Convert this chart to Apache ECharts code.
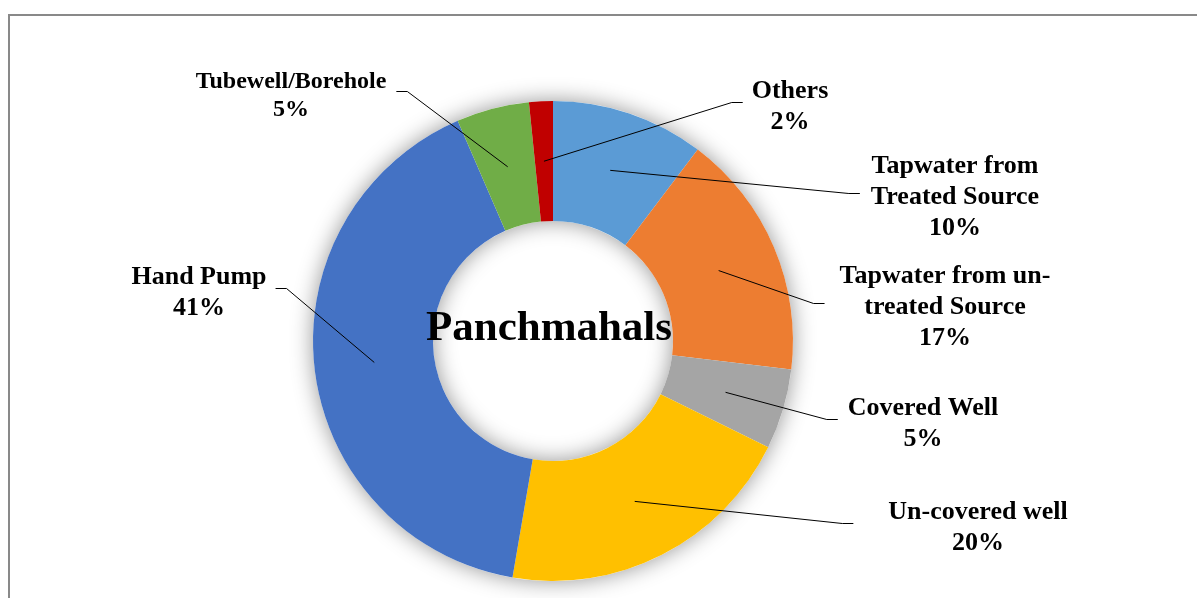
<!DOCTYPE html>
<html>
<head>
<meta charset="utf-8">
<script src="https://cdn.jsdelivr.net/npm/echarts@6/dist/echarts.min.js"></script>
<style>
  html, body { margin: 0; padding: 0; background: #ffffff; }
  #chart { width: 1197px; height: 598px; }
</style>
</head>
<body>
<div id="chart"></div>
<script>
// Drinking water sources, Panchmahals (share of households, %)
const categories = [
  'Tapwater from\nTreated Source',
  'Tapwater from un-\ntreated Source',
  'Covered Well',
  'Un-covered well',
  'Hand Pump',
  'Tubewell/Borehole',
  'Others'
];
const shares = [10.3, 16.6, 5.4, 20.4, 40.8, 4.9, 1.6];
const sliceColors = ['#5B9BD5', '#ED7D31', '#A5A5A5', '#FFC000', '#4472C4', '#70AD47', '#C00000'];
const chartTitle = 'Panchmahals';

// Ring geometry
const CENTER = [553, 341];
const RADII = [120, 240];

// Centre of each label block and the side its leader line attaches to
const labelPlacement = [
  { x: 955, y: 195, side: 'left',  gap: 11 },
  { x: 945, y: 305, side: 'left',  gap: 15 },
  { x: 923, y: 421, side: 'left',  gap: 10 },
  { x: 978, y: 525, side: 'left',  gap: 35 },
  { x: 199, y: 290, side: 'right', gap: 9 },
  { x: 291, y: 93,  side: 'right', gap: 10 },
  { x: 790, y: 104, side: 'left',  gap: 9 }
];
const labelFontSizes = [26, 26, 26, 26, 26, 24, 26];

// Mid-angle of every slice, clockwise from 12 o'clock
const total = shares.reduce((a, b) => a + b, 0);
const midAngles = [];
(function () {
  let acc = 0;
  shares.forEach(v => {
    midAngles.push(((acc + v / 2) / total) * Math.PI * 2);
    acc += v;
  });
})();

const serifFont = '"Liberation Serif", "Times New Roman", serif';

const ringData = categories.map((name, i) => ({
  name: name,
  value: shares[i],
  itemStyle: { color: sliceColors[i] }
}));

// Same slices, invisible, carrying the labels so the leader lines sit above the ring
const labelData = categories.map((name, i) => ({
  name: name,
  value: shares[i],
  label: {
    fontSize: labelFontSizes[i],
    lineHeight: labelFontSizes[i] === 26 ? 31 : 28
  }
}));

const chart = echarts.init(document.getElementById('chart'), null, { renderer: 'canvas' });

chart.setOption({
  animation: false,
  backgroundColor: '#ffffff',
  graphic: [
    {
      type: 'rect',
      silent: true,
      z: 0,
      shape: { x: 9, y: 15, width: 1300, height: 700 },
      style: { fill: 'none', stroke: '#898989', lineWidth: 2 }
    },
    {
      type: 'text',
      silent: true,
      z: 100,
      x: 549,
      y: 329,
      style: {
        text: chartTitle,
        fontFamily: serifFont,
        fontWeight: 'bold',
        fontSize: 43,
        fill: '#000000',
        align: 'center',
        verticalAlign: 'middle'
      }
    }
  ],
  series: [
    {
      // soft glow behind the ring
      type: 'pie',
      silent: true,
      z: 1,
      center: CENTER,
      radius: RADII,
      startAngle: 90,
      label: { show: false },
      labelLine: { show: false },
      itemStyle: {
        color: '#ffffff',
        shadowBlur: 22,
        shadowColor: 'rgba(0,0,0,0.42)'
      },
      data: [{ value: total, name: '' }]
    },
    {
      type: 'pie',
      z: 2,
      silent: true,
      center: CENTER,
      radius: RADII,
      startAngle: 90,
      clockwise: true,
      itemStyle: { borderWidth: 0 },
      emphasis: { disabled: true },
      label: { show: false },
      labelLine: { show: false },
      data: ringData
    },
    {
      type: 'pie',
      z: 3,
      silent: true,
      center: CENTER,
      radius: RADII,
      startAngle: 90,
      clockwise: true,
      avoidLabelOverlap: false,
      itemStyle: { color: 'rgba(0,0,0,0)', borderWidth: 0 },
      emphasis: { disabled: true },
      label: {
        show: true,
        position: 'outside',
        color: '#000000',
        fontFamily: serifFont,
        fontWeight: 'bold',
        fontSize: 26,
        lineHeight: 31,
        align: 'center',
        formatter: p => p.name + '\n' + Math.round(p.value) + '%'
      },
      labelLine: {
        show: true,
        length: 10,
        length2: 10,
        lineStyle: { color: '#000000', width: 1 }
      },
      labelLayout: function (p) {
        const i = p.dataIndex;
        const spot = labelPlacement[i];
        const dir = spot.side === 'left' ? -1 : 1;
        const halfW = p.labelRect.width / 2;
        const endX = spot.x + dir * (halfW + spot.gap);
        const elbowX = endX + dir * 11;
        const lineY = spot.y - 1.5;
        const rMid = (RADII[0] + RADII[1]) / 2;
        const a = midAngles[i];
        const sx = CENTER[0] + rMid * Math.sin(a);
        const sy = CENTER[1] - rMid * Math.cos(a);
        return {
          x: spot.x,
          y: spot.y + 2.5,
          align: 'center',
          verticalAlign: 'middle',
          labelLinePoints: [[sx, sy], [elbowX, lineY], [endX, lineY]]
        };
      },
      data: labelData
    }
  ]
});
</script>
</body>
</html>
